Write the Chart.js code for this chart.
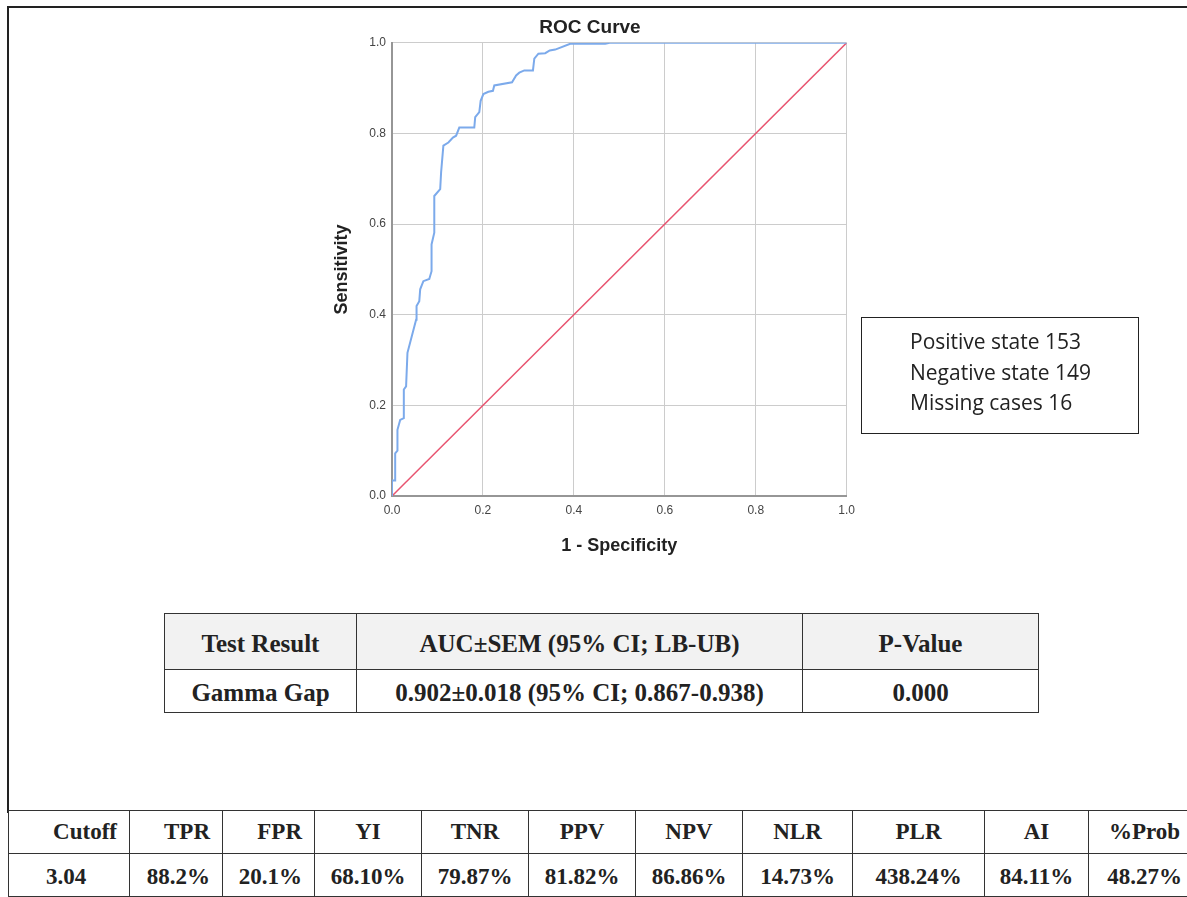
<!DOCTYPE html>
<html>
<head>
<meta charset="utf-8">
<script src="https://cdn.jsdelivr.net/npm/chart.js@4.4.1/dist/chart.umd.min.js"></script>
<style>
  body { margin: 0; width: 1187px; height: 897px; overflow: hidden; position: relative; background: #fff; }
  #frame { position: absolute; left: 7px; top: 6px; width: 1300px; height: 805px; border-top: 2px solid #222; border-left: 2px solid #222; }
  #chartBox { position: absolute; left: 310px; top: 10px; width: 552px; height: 550px; }
  #counts { position: absolute; left: 861px; top: 317px; width: 278px; height: 117px; border: 1px solid #222; box-sizing: border-box;
            font-family: "Open Sans", "Noto Sans", sans-serif; font-size: 21px; color: #222; padding: 8px 0 0 48px; line-height: 30.5px; }
  table { position: absolute; border-collapse: collapse; table-layout: fixed; font-family: "Liberation Serif", "Times New Roman", serif; font-weight: bold; color: #222; }
  td { border: 1.5px solid #333; padding: 0; box-sizing: border-box; white-space: nowrap; }
  #auc { left: 164px; top: 613px; width: 874px; font-size: 25px; }
  #auc td { text-align: center; padding-top: 4px; }
  #auc tr.head td { background: #f2f2f2; height: 56px; }
  #auc tr.body td { height: 43px; }
  #cut { left: 8px; top: 810px; width: 1192px; font-size: 23px; }
  #cut td { text-align: center; height: 43px; }
  #cut tr.body td { padding-top: 4px; }
  #cut td.r { text-align: right; padding-right: 12px; }
  #cut td.l { text-align: left; padding-left: 37px; }
</style>
</head>
<body>
<div id="frame"></div>
<div id="chartBox"><canvas id="ROCChart"></canvas></div>
<div id="counts"></div>
<table id="auc"></table>
<table id="cut"></table>
<script>
// ROC curve (1 - specificity, sensitivity)
const fpr = [0, 0, 0.007, 0.007, 0.012, 0.012, 0.018, 0.026, 0.026, 0.031,
    0.034, 0.053, 0.054, 0.060, 0.062, 0.069, 0.082, 0.087, 0.087, 0.093,
    0.093, 0.106, 0.108, 0.113, 0.124, 0.134, 0.141, 0.148, 0.181, 0.183,
    0.192, 0.195, 0.201, 0.212, 0.222, 0.225, 0.264, 0.273, 0.280, 0.291,
    0.310, 0.313, 0.322, 0.337, 0.347, 0.359, 0.392, 0.469, 0.479, 1.0];
const tpr = [0, 0.034, 0.034, 0.094, 0.100, 0.146, 0.168, 0.172, 0.235, 0.242,
    0.316, 0.389, 0.419, 0.430, 0.456, 0.474, 0.479, 0.496, 0.555, 0.581,
    0.662, 0.677, 0.714, 0.773, 0.780, 0.791, 0.795, 0.813, 0.813, 0.836,
    0.847, 0.872, 0.887, 0.892, 0.894, 0.906, 0.913, 0.928, 0.934, 0.939,
    0.939, 0.965, 0.976, 0.977, 0.983, 0.985, 0.998, 0.998, 1.0, 1.0];
const refX = [0, 1];
const refY = [0, 1];

const countLines = ['Positive state 153', 'Negative state 149', 'Missing cases 16'];

const aucHead = ['Test Result', 'AUC±SEM (95% CI; LB-UB)', 'P-Value'];
const aucRow = ['Gamma Gap', '0.902±0.018 (95% CI; 0.867-0.938)', '0.000'];
const aucWidths = [192, 446, 236];

const cutHead = ['Cutoff', 'TPR', 'FPR', 'YI', 'TNR', 'PPV', 'NPV', 'NLR', 'PLR', 'AI', '%Prob'];
const cutRow = ['3.04', '88.2%', '20.1%', '68.10%', '79.87%', '81.82%', '86.86%', '14.73%', '438.24%', '84.11%', '48.27%'];
const cutWidths = [121, 93, 92, 107, 107, 107, 107, 110, 132, 104, 112];

const Colors = {
    CURVE: 'rgb(124, 170, 235)',
    REF: 'rgb(232, 84, 112)',
    GRID: 'rgb(204, 204, 204)',
    AXIS: 'rgb(150, 150, 150)',
    TEXT: 'rgb(34, 34, 34)'
};

const toPoints = (xs, ys) => xs.map((x, i) => ({ x: x, y: ys[i] }));

const axis = (title, isY) => ({
    type: 'linear',
    min: 0,
    max: 1,
    ticks: {
        stepSize: 0.2,
        padding: isY ? 6 : 7,
        color: '#444',
        font: { family: 'Liberation Sans', size: 12 },
        callback: v => v.toFixed(1)
    },
    grid: { color: Colors.GRID, drawTicks: false },
    border: { color: Colors.AXIS, width: 2 },
    title: {
        display: true,
        text: title,
        color: Colors.TEXT,
        font: { family: 'Liberation Sans', size: 18, weight: 'bold' },
        padding: isY ? { top: 3, bottom: 0 } : { top: 0, bottom: 3 }
    },
    afterFit: s => { if (isY) s.width = 64; else s.height = 64; }
});

const ROCChart = new Chart(document.getElementById('ROCChart'), {
    type: 'scatter',
    data: {
        datasets: [{
            label: 'Gamma Gap',
            data: toPoints(fpr, tpr),
            showLine: true,
            borderColor: Colors.CURVE,
            borderWidth: 2,
            pointRadius: 0,
            order: 1
        }, {
            label: 'Reference Line',
            data: toPoints(refX, refY),
            showLine: true,
            borderColor: Colors.REF,
            borderWidth: 1.5,
            pointRadius: 0,
            order: 2
        }]
    },
    options: {
        responsive: true,
        maintainAspectRatio: false,
        animation: false,
        layout: { padding: { left: 18, right: 10, top: 0, bottom: 0 } },
        plugins: {
            legend: { display: false },
            tooltip: { enabled: false },
            title: {
                display: true,
                text: 'ROC Curve',
                color: Colors.TEXT,
                font: { family: 'Liberation Sans', size: 19, weight: 'bold' },
                padding: { top: 6, bottom: 4 }
            }
        },
        scales: {
            x: axis('1 - Specificity', false),
            y: axis('Sensitivity', true)
        }
    }
});

document.getElementById('counts').innerHTML = countLines.map(t => `<div>${t}</div>`).join('');

const rowHtml = (cells, widths, cls, classes) =>
    `<tr class="${cls}">` + cells.map((c, i) =>
        `<td style="width:${widths[i]}px"${classes && classes[i] ? ` class="${classes[i]}"` : ''}>${c}</td>`).join('') + '</tr>';

document.getElementById('auc').innerHTML =
    rowHtml(aucHead, aucWidths, 'head') + rowHtml(aucRow, aucWidths, 'body');

document.getElementById('cut').innerHTML =
    rowHtml(cutHead, cutWidths, 'head', ['r', 'r', 'r']) +
    rowHtml(cutRow, cutWidths, 'body', ['l', 'r', 'r']);
</script>
</body>
</html>
